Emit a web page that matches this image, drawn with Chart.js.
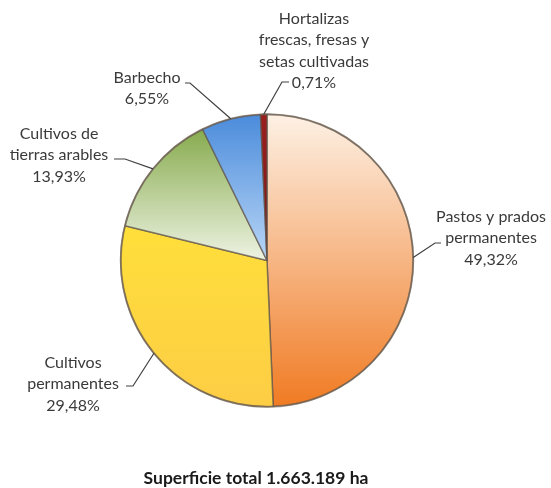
<!DOCTYPE html>
<html>
<head>
<meta charset="utf-8">
<script src="https://cdn.jsdelivr.net/npm/chart.js@4/dist/chart.umd.min.js"></script>
<style>
    html, body { margin: 0; padding: 0; background: #ffffff; }
    #wrap { width: 551px; height: 488px; position: relative; }
</style>
</head>
<body>
<div id="wrap"><canvas id="superficieChart"></canvas></div>
<script>
// Land use shares, clockwise from 12 o'clock
const categories = [
    ["Pastos y prados", "permanentes"],
    ["Cultivos", "permanentes"],
    ["Cultivos de", "tierras arables"],
    ["Barbecho"],
    ["Hortalizas", "frescas, fresas y", "setas cultivadas"]
];
const shares = [49.32, 29.48, 13.93, 6.55, 0.71];
const totalLabel = "Superficie total 1.663.189 ha";

// gradient stops per slice (top colour, bottom colour)
const sliceColors = [
    ["#fdf1e5", "#f07a22"],
    ["#ffe03a", "#fdcd45"],
    ["#86aa4c", "#eef3e3"],
    ["#4a8bdb", "#b9d6f6"],
    ["#9b2020", "#7a1414"]
];
// gradient span for each slice as fractions of pie height
const gradSpan = [[0, 1], [0.35, 1], [0.05, 0.5], [0, 0.5], [0, 0.5]];

// label layout: text centre x, first line y, leader elbow and end
const labelLayout = [
    { x: 491, y: 217, elbow: [435, 243], end: [441, 243] },
    { x: 73, y: 363, elbow: [133, 386], end: [126, 386] },
    { x: 59, y: 134, elbow: [125, 159], end: [114, 159] },
    { x: 147, y: 78, elbow: [190, 83], end: [185, 83] },
    { x: 314, y: 19, elbow: [282, 82], end: [289, 82] }
];
const lineGap = 21.3;

function fmt(v) {
    return v.toFixed(2).replace(".", ",") + "%";
}

const labelPlugin = {
    id: "pieLabels",
    afterDatasetsDraw(chart) {
        const ctx = chart.ctx;
        const arcs = chart.getDatasetMeta(0).data;
        ctx.save();

        // soft darker rim around the pie
        const a0 = arcs[0];
        ctx.beginPath();
        ctx.arc(a0.x, a0.y, a0.outerRadius, 0, Math.PI * 2);
        ctx.strokeStyle = "rgba(110, 95, 80, 0.55)";
        ctx.lineWidth = 2;
        ctx.stroke();

        ctx.font = "16px Lato, 'Open Sans', sans-serif";
        ctx.fillStyle = "#3a3a3a";
        ctx.textAlign = "center";
        ctx.textBaseline = "middle";

        arcs.forEach((arc, i) => {
            const lay = labelLayout[i];
            const lines = categories[i].concat([fmt(shares[i])]);
            lines.forEach((t, k) => ctx.fillText(t, lay.x, lay.y + k * lineGap));

            const mid = (arc.startAngle + arc.endAngle) / 2;
            const sx = arc.x + Math.cos(mid) * arc.outerRadius;
            const sy = arc.y + Math.sin(mid) * arc.outerRadius;
            ctx.beginPath();
            ctx.moveTo(sx, sy);
            ctx.lineTo(lay.elbow[0], lay.elbow[1]);
            ctx.lineTo(lay.end[0], lay.end[1]);
            ctx.strokeStyle = "#404040";
            ctx.lineWidth = 1.2;
            ctx.stroke();
        });

        ctx.font = "bold 17.5px Lato, 'Open Sans', sans-serif";
        ctx.fillStyle = "#1a1a1a";
        ctx.fillText(totalLabel, 256, 478);
        ctx.restore();
    }
};

function sliceFill(context) {
    const chart = context.chart;
    const area = chart.chartArea;
    if (!area) return sliceColors[context.dataIndex][1];
    const i = context.dataIndex;
    const h = area.bottom - area.top;
    const g = chart.ctx.createLinearGradient(0, area.top + gradSpan[i][0] * h, 0, area.top + gradSpan[i][1] * h);
    g.addColorStop(0, sliceColors[i][0]);
    g.addColorStop(1, sliceColors[i][1]);
    return g;
}

new Chart(document.getElementById("superficieChart"), {
    type: "pie",
    data: {
        labels: categories.map(c => c.join(" ")),
        datasets: [{
            data: shares,
            backgroundColor: sliceFill,
            borderColor: "rgba(95, 85, 75, 0.7)",
            borderWidth: 1.5
        }]
    },
    options: {
        responsive: true,
        maintainAspectRatio: false,
        animation: false,
        layout: {
            padding: { left: 120, right: 137, top: 113, bottom: 80 }
        },
        plugins: {
            legend: { display: false },
            tooltip: { enabled: false }
        }
    },
    plugins: [labelPlugin]
});
</script>
</body>
</html>
